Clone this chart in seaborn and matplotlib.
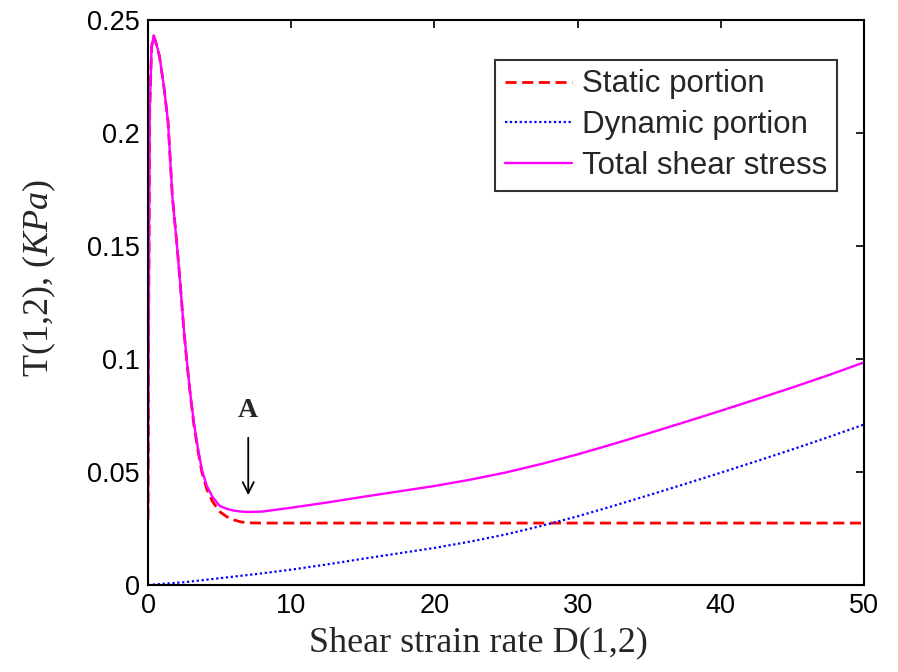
import matplotlib
matplotlib.use("Agg")
import matplotlib.pyplot as plt
import seaborn as sns
import pandas as pd
from matplotlib.ticker import FuncFormatter

# ---- data ----
static_x = [0, 0.05, 0.12, 0.25, 0.4, 0.6, 0.8, 1.1, 1.4, 1.7, 2.0, 2.23, 2.5, 2.7, 2.93,
            3.2, 3.5, 3.76, 4.1, 4.5, 5.0, 5.5, 6.0, 6.5, 7.0, 8.0, 10, 20, 30, 40, 50]
static_y = [0.029, 0.12, 0.21, 0.238, 0.243, 0.239, 0.234, 0.221, 0.205, 0.172, 0.152, 0.135,
            0.113, 0.0995, 0.0855, 0.071, 0.059, 0.050, 0.0425, 0.037, 0.0325, 0.0302, 0.0288,
            0.0279, 0.0275, 0.0274, 0.0274, 0.0274, 0.0274, 0.0274, 0.0274]

dyn_x = [0, 2.5, 5, 7.5, 10, 12.5, 15, 17.5, 20, 22.5, 25, 27.5, 30, 32.5, 35, 37.5, 40,
         42.5, 45, 47.5, 50]
dyn_y = [0, 0.0012, 0.0030, 0.0048, 0.0068, 0.0091, 0.0116, 0.0140, 0.0164, 0.0192, 0.0224,
         0.0262, 0.0304, 0.0350, 0.0398, 0.0447, 0.0497, 0.0548, 0.0600, 0.0654, 0.0710]

total_x = [0, 0.05, 0.12, 0.25, 0.4, 0.6, 0.8, 1.1, 1.4, 1.7, 2.0, 2.23, 2.5, 2.7, 2.93,
           3.2, 3.5, 3.76, 4.1, 4.5, 5.0, 5.5, 6.0, 6.5, 7.0, 8.0, 10, 12.5, 15, 17.5, 20,
           22.5, 25, 27.5, 30, 32.5, 35, 37.5, 40, 42.5, 45, 47.5, 50]
total_y = [0.029, 0.12, 0.21, 0.238, 0.243, 0.239, 0.234, 0.221, 0.205, 0.172, 0.152, 0.135,
           0.1135, 0.100, 0.086, 0.072, 0.060, 0.051, 0.044, 0.039, 0.0350, 0.0337, 0.0329,
           0.0325, 0.0323, 0.0325, 0.0342, 0.0365, 0.0390, 0.0414, 0.0438, 0.0466, 0.0498,
           0.0536, 0.0578, 0.0624, 0.0672, 0.0721, 0.0771, 0.0822, 0.0874, 0.0928, 0.0985]

labels = ["Static portion", "Dynamic portion", "Total shear stress"]
x_ticks = [0, 10, 20, 30, 40, 50]
y_ticks = [0, 0.05, 0.1, 0.15, 0.2, 0.25]

df_s = pd.DataFrame({"x": static_x, "y": static_y})
df_d = pd.DataFrame({"x": dyn_x, "y": dyn_y})
df_t = pd.DataFrame({"x": total_x, "y": total_y})

sns.set_style("white")
plt.rcParams["font.family"] = ["Liberation Sans", "DejaVu Sans"]
plt.rcParams["mathtext.fontset"] = "custom"
plt.rcParams["mathtext.rm"] = "Liberation Serif"
plt.rcParams["mathtext.it"] = "Liberation Serif:italic"

fig = plt.figure(figsize=(8.98, 6.72), dpi=100)
ax = fig.add_axes([148 / 898, 87 / 672, 716 / 898, 565 / 672])

sns.lineplot(data=df_s, x="x", y="y", ax=ax, color="#ff0000", linestyle=(0, (4, 2)),
             linewidth=2.0, label=labels[0], sort=False, estimator=None)
sns.lineplot(data=df_d, x="x", y="y", ax=ax, color="#0000ff", linestyle=(0, (1, 1.2)),
             linewidth=1.6, label=labels[1], sort=False, estimator=None)
sns.lineplot(data=df_t, x="x", y="y", ax=ax, color="#ff00ff", linestyle="-",
             linewidth=1.7, label=labels[2], sort=False, estimator=None)

ax.set_xlim(0, 50)
ax.set_ylim(0, 0.25)
ax.set_xticks(x_ticks)
ax.set_yticks(y_ticks)
ax.yaxis.set_major_formatter(FuncFormatter(lambda v, p: f"{v:g}"))
ax.tick_params(direction="in", length=6, width=1.2, top=True, right=True,
               labelsize=19.5, pad=6, colors="black")
for sp in ax.spines.values():
    sp.set_color("black")
    sp.set_linewidth(1.5)

ax.set_xlabel("Shear strain rate D(1,2)", family="Liberation Serif", fontsize=26)
ax.xaxis.set_label_coords(0.462, -0.074)
ax.set_ylabel("T(1,2), ($KPa$)", family="Liberation Serif", fontsize=26)
ax.yaxis.set_label_coords(-0.125, 0.543)

leg = ax.legend(loc="upper right", bbox_to_anchor=(0.962, 0.929), fontsize=22.5,
                frameon=True, fancybox=False, handlelength=2.15, handletextpad=0.33,
                borderpad=0.3, labelspacing=0.35, borderaxespad=0)
leg.get_frame().set_edgecolor("black")
leg.get_frame().set_linewidth(1.5)

ax.annotate("", xy=(7.0, 0.0385), xytext=(7.0, 0.0664),
            arrowprops=dict(arrowstyle="->", color="black", lw=1.3, mutation_scale=20))
ax.text(7.0, 0.0774, "A", family="Liberation Serif", fontweight="bold", fontsize=20,
        ha="center", va="center")

fig.savefig("out.png", dpi=100)
